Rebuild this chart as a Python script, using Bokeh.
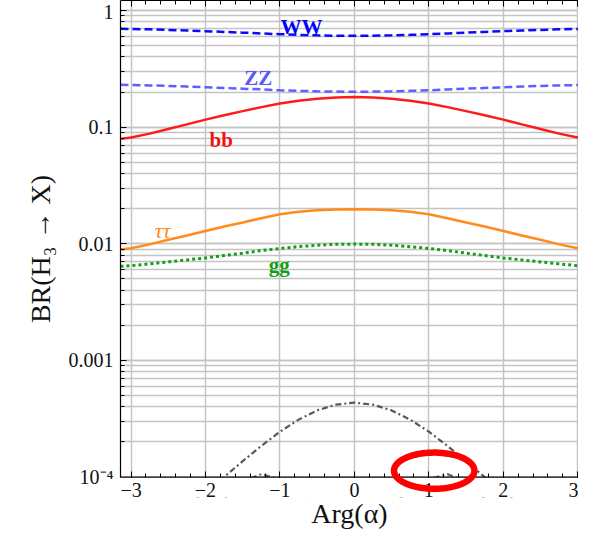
import numpy as np
from bokeh.plotting import figure
from bokeh.models import (FixedTicker, LinearAxis, CustomJSTickFormatter, Span,
                          PolyAnnotation, BoxAnnotation, ColumnDataSource, Range1d)
from bokeh.core.properties import value
from bokeh.embed import file_html
from bokeh.resources import INLINE

# ---------------- data ----------------
arg_alpha = [-3.1416, -3.0, -2.75, -2.5, -2.25, -2.0, -1.75, -1.5, -1.25, -1.0, -0.75, -0.5, -0.25,
             0.0,
             0.25, 0.5, 0.75, 1.0, 1.25, 1.5, 1.75, 2.0, 2.25, 2.5, 2.75, 3.0, 3.1416]

br_ww = [0.698, 0.696, 0.690, 0.683, 0.675, 0.666, 0.656, 0.647, 0.637, 0.627, 0.619, 0.613, 0.609,
         0.608,
         0.609, 0.613, 0.619, 0.627, 0.637, 0.647, 0.656, 0.666, 0.675, 0.683, 0.690, 0.696, 0.698]

br_zz = [0.231, 0.230, 0.228, 0.226, 0.223, 0.220, 0.217, 0.214, 0.211, 0.207, 0.205, 0.203, 0.202,
         0.201,
         0.202, 0.203, 0.205, 0.207, 0.211, 0.214, 0.217, 0.220, 0.223, 0.226, 0.228, 0.230, 0.231]

br_bb = [0.0794, 0.0817, 0.0881, 0.0964, 0.1057, 0.1161, 0.1268, 0.1374, 0.1486, 0.1596, 0.1687, 0.1754, 0.1799,
         0.1811,
         0.1799, 0.1754, 0.1687, 0.1596, 0.1486, 0.1374, 0.1268, 0.1161, 0.1057, 0.0964, 0.0881, 0.0817, 0.0794]

br_tautau = [0.00893, 0.00916, 0.00989, 0.01084, 0.0118, 0.01288, 0.01406, 0.01524, 0.0166, 0.01795, 0.01888, 0.01941, 0.01972,
             0.01982,
             0.01972, 0.01941, 0.01888, 0.01795, 0.0166, 0.01524, 0.01406, 0.01288, 0.0118, 0.01084, 0.00989, 0.00916, 0.00893]

br_gg = [0.00641, 0.00649, 0.00673, 0.00700, 0.00728, 0.00757, 0.00794, 0.00832, 0.00875, 0.00912, 0.00946, 0.00973, 0.00991,
         0.00995,
         0.00991, 0.00973, 0.00946, 0.00912, 0.00875, 0.00832, 0.00794, 0.00757, 0.00728, 0.00700, 0.00673, 0.00649, 0.00641]

br_gray1 = [3.6e-5, 3.66e-5, 4.0e-5, 4.6e-5, 5.7e-5, 7.5e-5, 1.00e-4, 1.37e-4, 1.85e-4, 2.45e-4, 3.11e-4, 3.73e-4, 4.18e-4,
            4.35e-4,
            4.18e-4, 3.73e-4, 3.11e-4, 2.45e-4, 1.85e-4, 1.37e-4, 1.00e-4, 7.5e-5, 5.7e-5, 4.6e-5, 4.0e-5, 3.66e-5, 3.6e-5]

br_gray2 = [4e-6, 5e-6, 9e-6, 1.5e-5, 2.7e-5, 4.2e-5, 6.5e-5, 9.2e-5, 1.06e-4, 9.6e-5, 7.6e-5, 5.8e-5, 4.5e-5,
            4.0e-5,
            4.5e-5, 5.8e-5, 7.6e-5, 9.6e-5, 1.06e-4, 9.2e-5, 6.5e-5, 4.2e-5, 2.7e-5, 1.5e-5, 9e-6, 5e-6, 4e-6]

# curve labels
label_text = ["WW", "ZZ", "bb", "gg"]
label_x = [-0.71, -1.29, -1.79, -1.01]
label_y = [0.717, 0.265, 0.0784, 0.00662]
label_color = ["#0000ff", "#5a5af5", "#f01414", "#14a014"]
tau_text = ["ττ"]
tau_x = [-2.575]
tau_y = [0.0129]

# ticks
x_ticks = [-3, -2, -1, 0, 1, 2, 3]
x_minor = [round(-3 + 0.2 * k, 1) for k in range(31)]
y_ticks = [1e-4, 1e-3, 1e-2, 1e-1, 1.0]
y_minor = [m * 10.0 ** e for e in range(-4, 1) for m in range(1, 10)]

# axis limits
Y_MIN, Y_MAX = 1e-4, 1.22

# highlight ellipse (annotation): centre and radii
ell_cx, ell_cy_log = 1.072, -3.945
ell_rx, ell_ry_log = 0.54, 0.155

# ---------------- figure ----------------
SERIF = "Liberation Serif"
GRID = "#c4c4c4"
DROP = 20  # px the frame extends below Y_MIN (room for the highlight ellipse)

p = figure(width=578, height=531, y_axis_type="log",
           x_range=Range1d(-3.1416, 3.01), y_range=Range1d(10 ** -4.175, Y_MAX),
           output_backend="svg", toolbar_location=None,
           min_border_left=120, min_border_right=0, min_border_top=0, min_border_bottom=0)
p.outline_line_color = None
p.background_fill_color = "white"

xt = FixedTicker(ticks=x_ticks, minor_ticks=x_minor)
yt = FixedTicker(ticks=y_ticks, minor_ticks=y_minor)

xfmt = CustomJSTickFormatter(code="return tick < 0 ? '\u2212' + String(-tick) : String(tick);")
yfmt = CustomJSTickFormatter(code="if (tick < 2e-4) { return '10\u207b\u2074'; } return String(tick);")

def style_axis(ax):
    ax.axis_line_color = "black"
    ax.axis_line_width = 1.2
    ax.major_tick_line_color = "black"
    ax.minor_tick_line_color = "black"
    ax.major_tick_in = 6
    ax.major_tick_out = 0
    ax.minor_tick_in = 4
    ax.minor_tick_out = 0
    ax.major_label_text_font = SERIF
    ax.major_label_text_font_size = "20px"
    ax.major_label_text_color = "#111111"
    ax.axis_label_text_font = SERIF
    ax.axis_label_text_font_size = "28px"
    ax.axis_label_text_font_style = "normal"
    ax.axis_label_text_color = "#111111"

ya = p.yaxis[0]
ya.ticker = yt
ya.formatter = yfmt
style_axis(ya)
ya.axis_label = "BR(H₃ → X)"
ya.major_label_standoff = 7
ya.axis_label_standoff = 10
ya.bounds = (Y_MIN, Y_MAX)

xa = p.xaxis[0]
xa.ticker = xt
xa.formatter = xfmt
style_axis(xa)
xa.axis_label = "Arg(α)"
xa.axis_line_color = None          # drawn as a span at Y_MIN instead
xa.major_tick_out = -DROP
xa.major_tick_in = DROP + 6
xa.minor_tick_out = -DROP
xa.minor_tick_in = DROP + 4
xa.major_label_standoff = 5
xa.axis_label_standoff = -2
xa.level = "overlay"

top = LinearAxis(ticker=xt)
style_axis(top)
top.major_label_text_font_size = "0px"
top.major_label_text_color = None
top.major_label_standoff = 0
p.add_layout(top, "above")

p.xgrid.ticker = xt
p.ygrid.ticker = yt
for g in (p.xgrid[0], p.ygrid[0]):
    g.grid_line_color = GRID
    g.grid_line_width = 1.5
p.ygrid.minor_grid_line_color = GRID
p.ygrid.minor_grid_line_width = 1.5

# ---------------- curves ----------------
src = ColumnDataSource(dict(x=arg_alpha, ww=br_ww, zz=br_zz, bb=br_bb, tt=br_tautau,
                            gg=br_gg, g1=br_gray1, g2=br_gray2))

p.line("x", "g2", source=src, line_color="#666666", line_width=2.2, line_dash="6 3 2 3")
p.line("x", "g1", source=src, line_color="#585858", line_width=2.2, line_dash="6 3 2 3")
p.line("x", "gg", source=src, line_color="#14a014", line_width=3, line_dash="3 3")
p.line("x", "tt", source=src, line_color="#ff8c1a", line_width=2.5)
p.line("x", "bb", source=src, line_color="#ff1a1a", line_width=2.5)
p.line("x", "zz", source=src, line_color="#5f5fff", line_width=2.5, line_dash="8 4")
p.line("x", "ww", source=src, line_color="#0a0aff", line_width=2.5, line_dash="8 4")

lsrc = ColumnDataSource(dict(x=label_x, y=label_y, t=label_text, c=label_color))
p.text("x", "y", text="t", source=lsrc, text_color="c", text_font=value(SERIF),
       text_font_style="bold", text_font_size="21px", text_align="center",
       text_baseline="alphabetic")
p.text(x=tau_x, y=tau_y, text=tau_text, text_color="#ff8c1a", text_font=value(SERIF),
       text_font_style="italic", text_font_size="22px", text_align="center",
       text_baseline="alphabetic")

# white mask below the plotting floor, then the floor line itself
p.add_layout(BoxAnnotation(top=Y_MIN, fill_color="white", fill_alpha=1.0, line_color=None))
p.add_layout(Span(location=Y_MIN, dimension="width", line_color="black", line_width=1.2,
                  level="overlay"))

# ---------------- highlight ellipse ----------------
t = np.linspace(0, 2 * np.pi, 120)
ell = PolyAnnotation(xs=list(ell_cx + ell_rx * np.cos(t)),
                     ys=list(10 ** (ell_cy_log + ell_ry_log * np.sin(t))),
                     fill_color=None, line_color="#ff0000", line_width=6.5, line_alpha=1.0,
                     level="overlay")
p.add_layout(ell)

open("out.html", "w").write(file_html(p, INLINE))
